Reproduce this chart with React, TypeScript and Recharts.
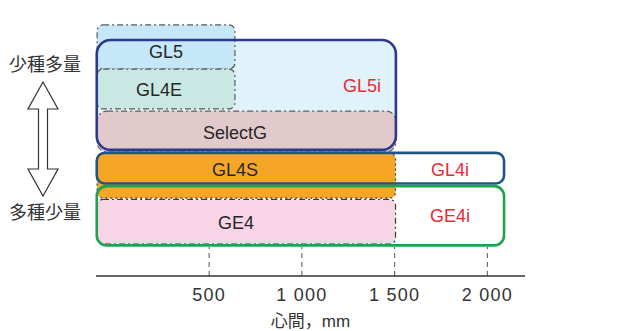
import {
  ComposedChart,
  ReferenceArea,
  ReferenceLine,
  Scatter,
  XAxis,
  YAxis,
} from "recharts"

// box extents: x in mm (心間), y in an arbitrary 0–100 "variety / volume" level
const boxNames = ["GL5i", "GL5", "GL4E", "SelectG", "GL5i", "GL4S", "GE4", "GL4i", "GE4i"]
const boxStart = [-106, -104, -104, -104, -106, -104, -104, -106, -106]
const boxEnd = [1507, 639, 639, 1507, 1507, 1505, 1505, 2090, 2090]
const boxTop = [88.7, 94.4, 77.8, 62.0, 88.7, 46.2, 28.8, 46.3, 33.8]
const boxBottom = [47.4, 77.8, 62.8, 46.6, 47.4, 29.3, 12.0, 34.8, 11.5]
// first GL5i pass is the fill, second pass (index 4) is the outline on top
const outlineOnly = [false, false, false, false, true, false, false, true, true]

const labelNames = ["GL5", "GL4E", "GL5i", "SelectG", "GL4S", "GL4i", "GE4", "GE4i"]
const labelX = [267, 230, 1324, 639, 639, 1799, 645, 1799]
const labelY = [84.3, 69.9, 71.4, 53.9, 39.8, 39.8, 19.9, 22.6]

const xTicks = [500, 1000, 1500, 2000]
const gridTop = 10.9

const DASH_DOT = "6 3 2 3"
const FONT = '"Liberation Sans", Arial, "Noto Sans CJK JP", sans-serif'

type BoxStyle = { fill: string; stroke: string; width: number; dash?: string; r: number }

const boxStyles: Record<string, BoxStyle> = {
  GL5i: { fill: "#e0f2fa", stroke: "#2b3a8f", width: 2.6, r: 14 },
  GL5: { fill: "#c6e7f7", stroke: "#5a5a5a", width: 1.2, dash: DASH_DOT, r: 6 },
  GL4E: { fill: "#c9e7e3", stroke: "#5a5a5a", width: 1.2, dash: DASH_DOT, r: 6 },
  SelectG: { fill: "#e1c9cc", stroke: "#6a5a5a", width: 1.2, dash: DASH_DOT, r: 10 },
  GL4S: { fill: "#f6a627", stroke: "#3a3a3a", width: 1.2, dash: "2 3", r: 6 },
  GE4: { fill: "#f8d5e6", stroke: "#3a3a3a", width: 1.2, dash: DASH_DOT, r: 6 },
  GL4i: { fill: "none", stroke: "#1f5487", width: 2.6, r: 8 },
  GE4i: { fill: "none", stroke: "#1fa34f", width: 2.6, r: 10 },
}

const labelData = labelNames.map((name, i) => ({ name, x: labelX[i], y: labelY[i] }))

const fmtTick = (v: number) =>
  v >= 1000 ? `${Math.floor(v / 1000)} ${String(v % 1000).padStart(3, "0")}` : String(v)

const roundBox = (s: BoxStyle, outline: boolean, noStroke: boolean) => (p: any) => (
  <rect
    x={p.x}
    y={p.y}
    width={p.width}
    height={p.height}
    rx={s.r}
    ry={s.r}
    fill={outline ? "none" : s.fill}
    stroke={noStroke ? "none" : s.stroke}
    strokeWidth={s.width}
    strokeDasharray={s.dash}
  />
)

const LabelText = (p: any) => {
  const red = p.payload.name.endsWith("i")
  return (
    <text
      x={p.cx}
      y={p.cy}
      textAnchor="middle"
      dominantBaseline="central"
      fontSize={18}
      fontFamily={FONT}
      fill={red ? "#ea2a33" : "#262626"}
    >
      {p.payload.name}
    </text>
  )
}

export default function App() {
  return (
    <div style={{ position: "absolute", left: 0, top: 0, width: 624, height: 331, background: "#fff" }}>
      <svg
        width={95}
        height={331}
        style={{ position: "absolute", left: 0, top: 0 }}
        fontFamily={FONT}
      >
        <text x={45} y={65} textAnchor="middle" dominantBaseline="central" fontSize={18} fill="#333">
          少種多量
        </text>
        <path
          d="M43,82 L58,109 L47.5,109 L47.5,169 L58,169 L43,196 L28,169 L38.5,169 L38.5,109 L28,109 Z"
          fill="#fff"
          stroke="#333"
          strokeWidth={1.2}
        />
        <text x={45} y={213} textAnchor="middle" dominantBaseline="central" fontSize={18} fill="#333">
          多種少量
        </text>
      </svg>
      <ComposedChart
        width={624}
        height={331}
        margin={{ top: 10, right: 99, left: 96, bottom: 0 }}
        style={{ fontFamily: FONT }}
      >
        <XAxis
          type="number"
          dataKey="x"
          domain={[-110, 2203]}
          ticks={xTicks}
          allowDataOverflow
          height={55}
          tickLine={false}
          tickMargin={6}
          tickFormatter={fmtTick}
          tick={{ fill: "#333", fontSize: 18, letterSpacing: 1.2 }}
          axisLine={{ stroke: "#333", strokeWidth: 1.5 }}
          label={{ value: "心間，mm", position: "insideBottom", offset: 4, fill: "#333", fontSize: 17 }}
        />
        <YAxis
          type="number"
          dataKey="y"
          domain={[0, 100]}
          allowDataOverflow
          width={0}
          tick={false}
          tickLine={false}
          axisLine={{ stroke: "#333", strokeWidth: 1.5 }}
        />
        {xTicks.map((t) => (
          <ReferenceLine
            key={t}
            segment={[
              { x: t, y: 0 },
              { x: t, y: gridTop },
            ]}
            stroke="#555"
            strokeDasharray="5 4"
          />
        ))}
        {boxNames.map((name, i) => (
          <ReferenceArea
            key={`${name}-${i}`}
            x1={boxStart[i]}
            x2={boxEnd[i]}
            y1={boxBottom[i]}
            y2={boxTop[i]}
            shape={roundBox(boxStyles[name], outlineOnly[i], i === 0)}
          />
        ))}
        <Scatter data={labelData} shape={LabelText} isAnimationActive={false} />
      </ComposedChart>
    </div>
  )
}
